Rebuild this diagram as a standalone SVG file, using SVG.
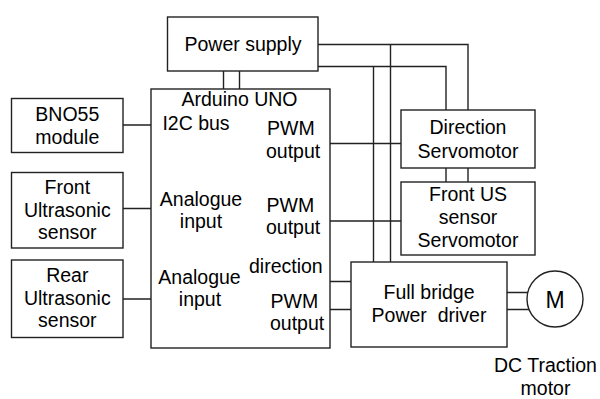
<svg xmlns="http://www.w3.org/2000/svg" width="600" height="399" viewBox="0 0 600 399">
<style>
.box{fill:#fff;stroke:#222;stroke-width:1.4}
.ln{fill:none;stroke:#222;stroke-width:1.4}
text{font-family:"Liberation Sans",Arial,sans-serif;font-size:19.5px;fill:#000;white-space:pre}
.c{text-anchor:middle}
</style>
<rect width="600" height="399" fill="#fff"/>
<g id="connectors">
<path class="ln" d="M223.5,71 V89 M239.5,71 V89"/>
<path class="ln" d="M318,44.5 H468 V110 M318,66.5 H446 V110"/>
<path class="ln" d="M446,168 V182 M468,168 V182"/>
<path class="ln" d="M390.5,44.5 V262 M373.5,66.5 V262"/>
<path class="ln" d="M123,125 H151 M123,208.5 H151 M123,299 H151"/>
<path class="ln" d="M330,143.5 H401 M330,221 H401"/>
<path class="ln" d="M330,281.5 H351 M330,309.5 H351"/>
<path class="ln" d="M507,292.5 H530 M507,309.5 H530"/>
</g>
<g id="power">
<rect class="box" x="167.5" y="17" width="150.5" height="54"/>
<text class="c" x="243" y="50.5">Power supply</text>
</g>
<g id="arduino">
<rect class="box" x="151" y="89" width="179" height="259"/>
<text class="c" x="239.5" y="105.5">Arduino UNO</text>
<text class="c" x="196" y="130">I2C bus</text>
<text x="267" y="135">PWM</text>
<text x="266" y="157.5">output</text>
<text class="c" x="201" y="206">Analogue</text>
<text class="c" x="201" y="228">input</text>
<text x="266.5" y="212">PWM</text>
<text x="266" y="234">output</text>
<text x="249" y="273">direction</text>
<text class="c" x="199.5" y="283.5">Analogue</text>
<text class="c" x="200" y="305.5">input</text>
<text x="270.5" y="307.5">PWM</text>
<text x="270" y="329.5">output</text>
</g>
<g id="bno55">
<rect class="box" x="11.5" y="98.5" width="111.5" height="54"/>
<text class="c" x="67.3" y="120.5">BNO55</text>
<text class="c" x="67.3" y="144">module</text>
</g>
<g id="front-us">
<rect class="box" x="11.5" y="172.5" width="111.5" height="75.5"/>
<text class="c" x="67.3" y="193.5">Front</text>
<text class="c" x="67.3" y="216.5">Ultrasonic</text>
<text class="c" x="67.3" y="238.5">sensor</text>
</g>
<g id="rear-us">
<rect class="box" x="11.5" y="260" width="111.5" height="77.5"/>
<text class="c" x="67.3" y="281.5">Rear</text>
<text class="c" x="67.3" y="304.5">Ultrasonic</text>
<text class="c" x="67.3" y="327">sensor</text>
</g>
<g id="direction-servo">
<rect class="box" x="401" y="110" width="134" height="58"/>
<text class="c" x="468" y="133.5">Direction</text>
<text class="c" x="468" y="157.5">Servomotor</text>
</g>
<g id="front-us-servo">
<rect class="box" x="401" y="182" width="134" height="73"/>
<text class="c" x="468" y="201">Front US</text>
<text class="c" x="468" y="224">sensor</text>
<text class="c" x="468" y="246.5">Servomotor</text>
</g>
<g id="full-bridge">
<rect class="box" x="351" y="262" width="156" height="85"/>
<text class="c" x="429" y="299">Full bridge</text>
<text class="c" x="429" y="321.5">Power  driver</text>
</g>
<g id="motor">
<circle class="box" cx="555" cy="299" r="28"/>
<text class="c" x="555" y="307.5" style="font-size:23px">M</text>
<text class="c" x="545.5" y="372">DC Traction</text>
<text class="c" x="545.5" y="394.5">motor</text>
</g>
</svg>
